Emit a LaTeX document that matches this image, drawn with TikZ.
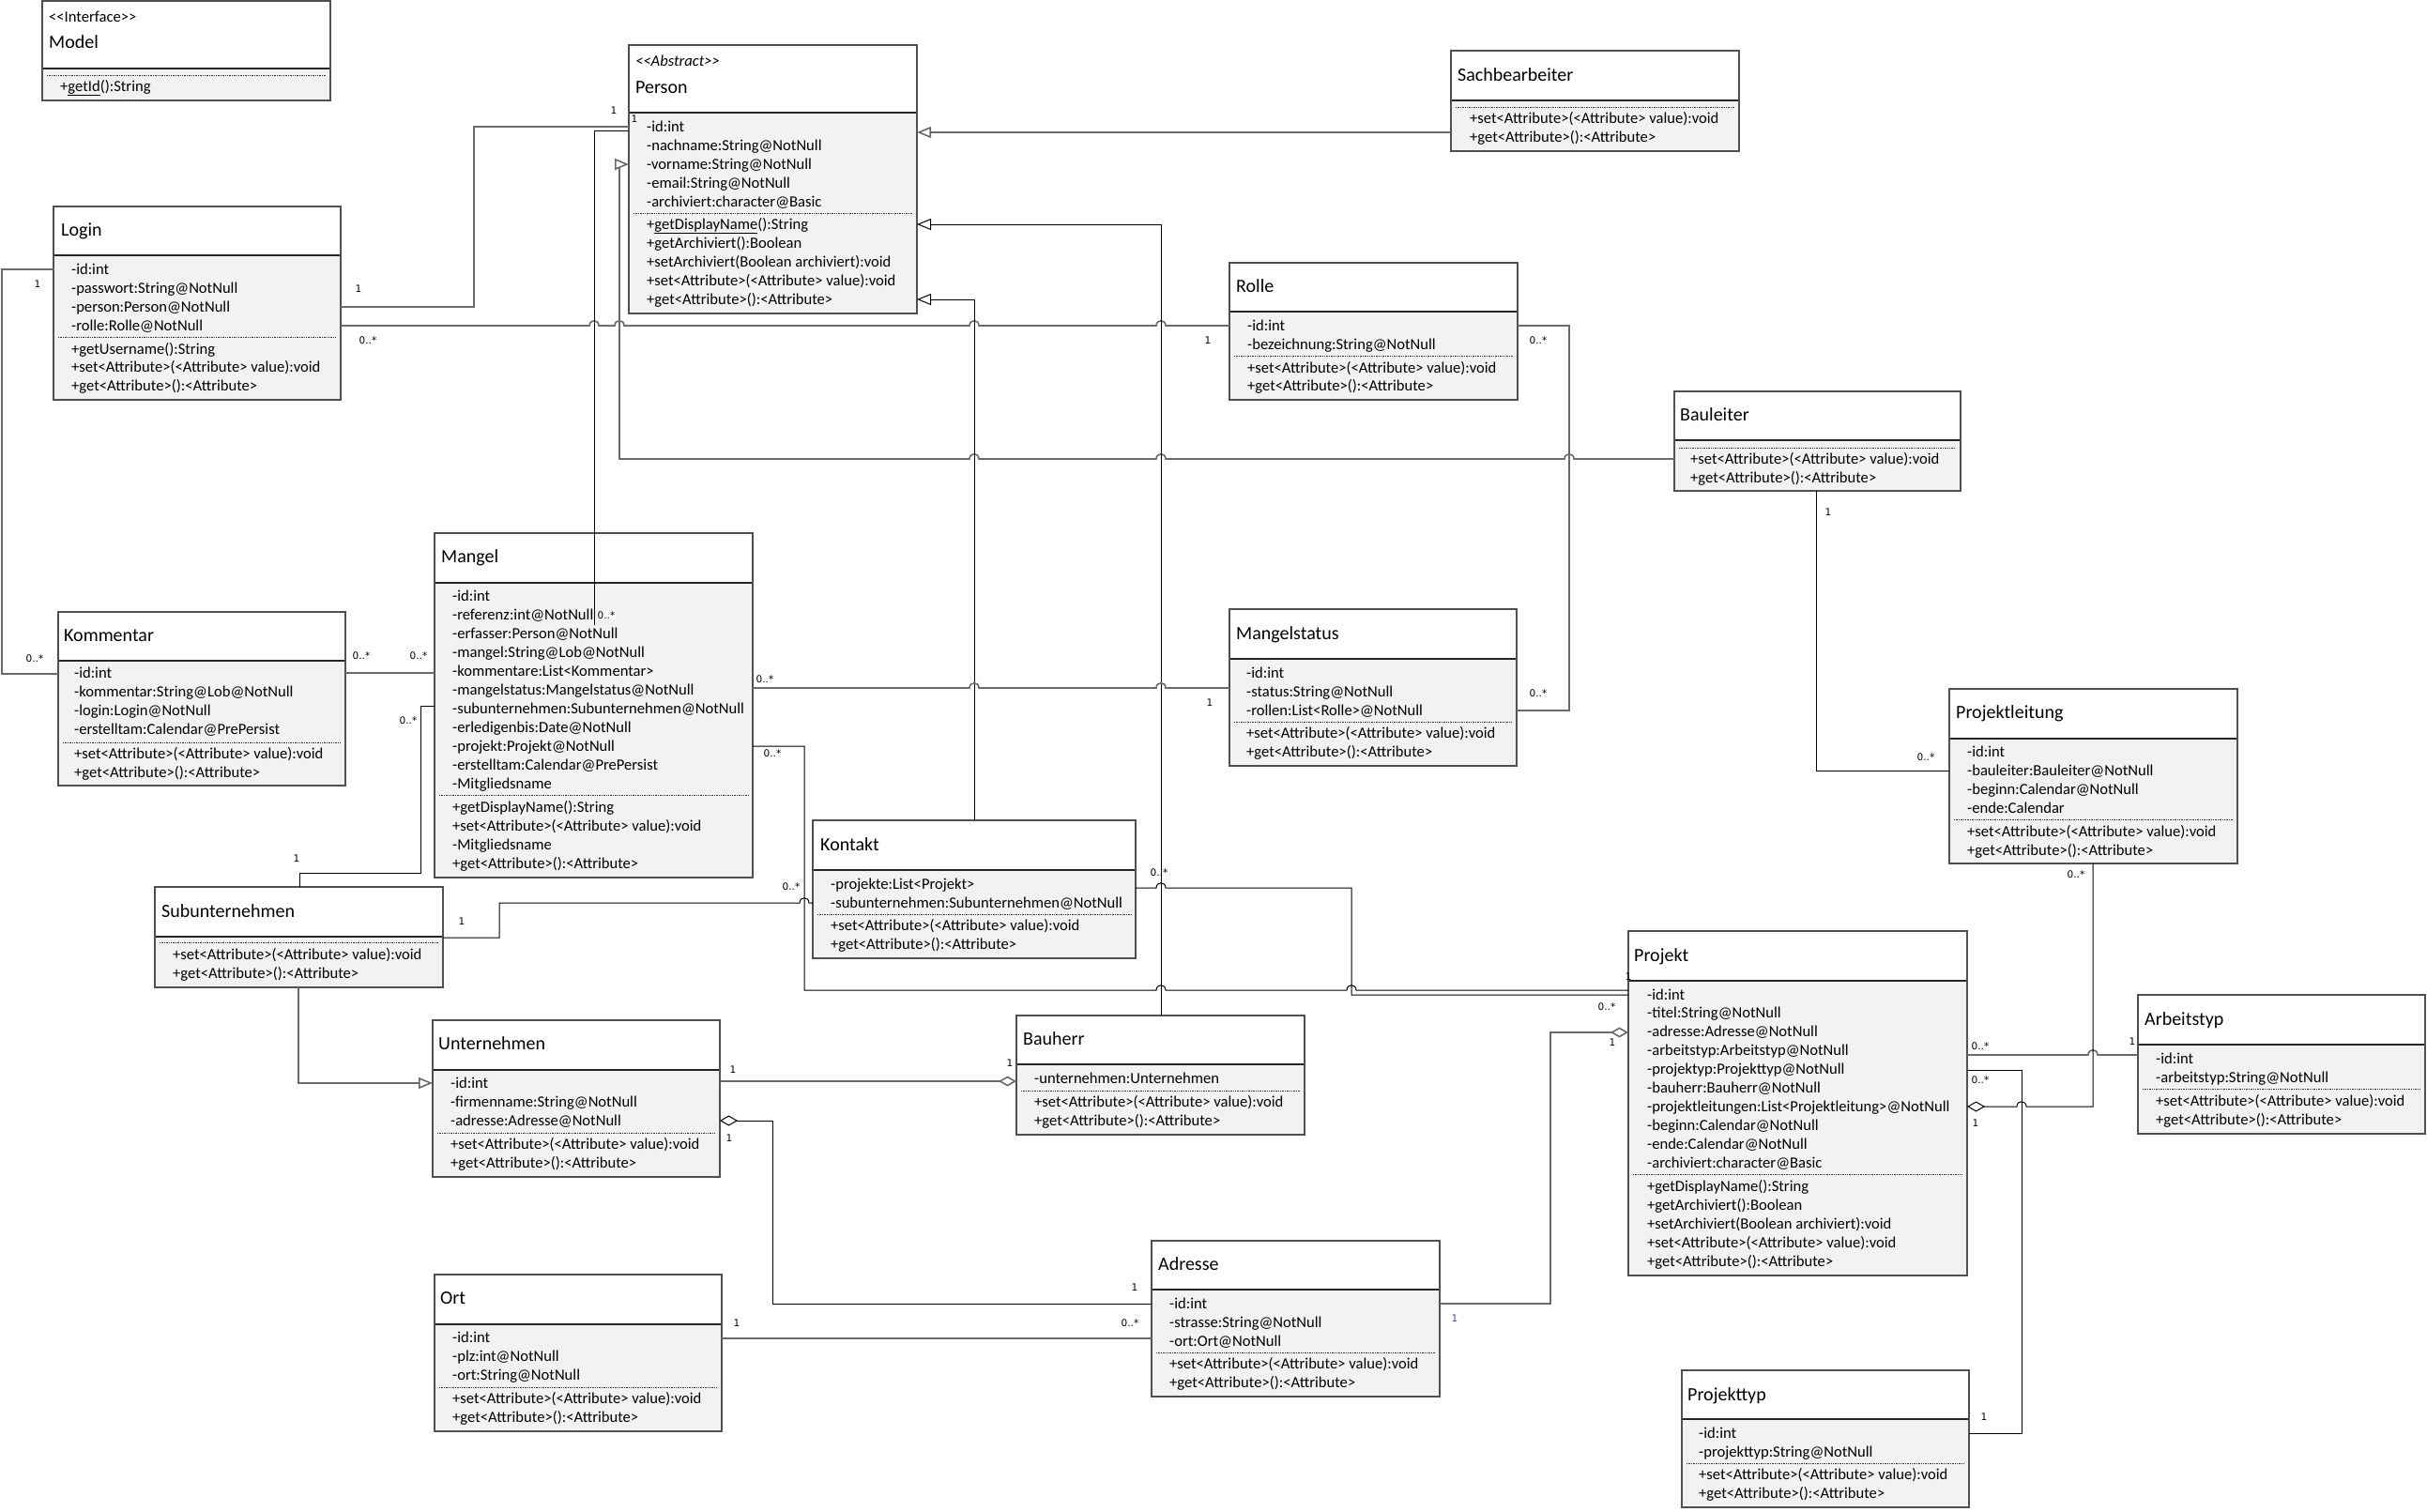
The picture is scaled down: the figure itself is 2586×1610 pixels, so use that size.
\documentclass[tikz,border=0pt]{standalone}
\usepackage{fontspec}
\setmainfont{Carlito}
\newfontfamily\lblfont{DejaVu Sans}
\usetikzlibrary{arrows.meta}
\definecolor{bodygray}{HTML}{F2F2F2}
\definecolor{boxgray}{HTML}{505050}
\definecolor{linegray}{HTML}{6A6A6A}
\definecolor{multblue}{HTML}{2F5597}
\tikzset{
  clsbody/.style={rectangle, inner sep=0pt, outer sep=0pt, fill=bodygray, draw=none},
  boxline/.style={draw=boxgray, line width=1.5pt},
  divline/.style={draw=black!85, line width=1.5pt},
  sepline/.style={draw=black!80, line width=1pt, dash pattern=on 1.3pt off 1.1pt},
  rowtxt/.style={anchor=west, inner sep=0pt, text height=12pt, text depth=2pt, font=\fontsize{16.6}{20}\selectfont},
  titletxt/.style={anchor=west, inner sep=0pt, text height=14pt, text depth=3pt, font=\fontsize{20}{24}\selectfont},
  mult/.style={inner sep=0.5pt, font=\lblfont\fontsize{10.5}{12}\selectfont},
  conn/.style={draw=linegray, line width=1.6pt},
  gen/.style={draw=black, line width=1pt},
  genhead/.style={-{Triangle[fill=white, length=15pt, width=12pt]}},
  aggend/.style={-{Diamond[fill=white, length=19pt, width=11pt]}},
  aggstart/.style={{Diamond[fill=white, length=19pt, width=11pt]}-},
  jump/.style args={#1,#2}{insert path={-- (#1-5,#2) .. controls (#1-5,#2-7) and (#1+5,#2-7) .. (#1+5,#2)}},
  jumpl/.style args={#1,#2}{insert path={-- (#1+5,#2) .. controls (#1+5,#2-7) and (#1-5,#2-7) .. (#1-5,#2)}}
}
\newcommand\umlclass[6]{%
  \node[clsbody, minimum width=#4pt, minimum height=#5pt, anchor=north west] (#1) at (#2,#3) {};
  \fill[white] (#1.north west) rectangle (#1.east |- 0,#6);
  \draw[divline] (#1.west |- 0,#6) -- (#1.east |- 0,#6);
  \draw[boxline] (#1.north west) rectangle (#1.south east);
}
\newcommand\sepl[3]{\draw[sepline] (#1+5,#3) -- (#2-5,#3);}
\newcommand\rowlist[4]{\foreach \rtext [count=\ri from 0] in {#4} {\node[rowtxt] at (#1,{#2+#3*\ri}) {\rtext};}}
\begin{document}
\begin{tikzpicture}[x=1pt,y=-1pt]
\useasboundingbox[fill=white] (0,0) rectangle (2586,1610);

% ---------------- classes ----------------
\umlclass{model}{45}{1}{307}{106}{73}
\node[rowtxt] at (52,18) {<{}<Interface>{}>};
\node[titletxt] at (52,46) {Model};
\sepl{45}{352}{80}
\node[rowtxt] at (64,92) {+\underline{getId}():String};

\umlclass{person}{670}{48}{307}{286}{120}
\node[rowtxt] at (677,65) {\itshape <{}<Abstract>{}>};
\node[titletxt] at (677,94) {Person};
\rowlist{689}{135}{20}{-id:int,-nachname:String@NotNull,-vorname:String@NotNull,-email:String@NotNull,-archiviert:character@Basic}
\sepl{670}{977}{227}
\rowlist{689}{239}{20}{+\underline{getDisplayName}():String,+getArchiviert():Boolean,+setArchiviert(Boolean archiviert):void,+set<Attribute>(<Attribute> value):void,+get<Attribute>():<Attribute>}

\umlclass{sachbearbeiter}{1546}{54}{307}{107}{107}
\node[titletxt] at (1553,81) {Sachbearbeiter};
\sepl{1546}{1853}{114}
\rowlist{1566}{126}{20}{+set<Attribute>(<Attribute> value):void,+get<Attribute>():<Attribute>}

\umlclass{login}{57}{220}{306}{206}{272}
\node[titletxt] at (65,246) {Login};
\rowlist{76}{287}{20}{-id:int,-passwort:String@NotNull,-person:Person@NotNull,-rolle:Rolle@NotNull}
\sepl{57}{363}{359}
\rowlist{76}{372}{19.5}{+getUsername():String,+set<Attribute>(<Attribute> value):void,+get<Attribute>():<Attribute>}

\umlclass{rolle}{1310}{280}{307}{146}{332}
\node[titletxt] at (1317,306) {Rolle};
\rowlist{1329}{347}{20}{-id:int,-bezeichnung:String@NotNull}
\sepl{1310}{1617}{379}
\rowlist{1329}{392}{19.5}{+set<Attribute>(<Attribute> value):void,+get<Attribute>():<Attribute>}

\umlclass{bauleiter}{1784}{417}{305}{106}{469}
\node[titletxt] at (1790,443) {Bauleiter};
\sepl{1784}{2089}{477}
\rowlist{1801}{489}{20}{+set<Attribute>(<Attribute> value):void,+get<Attribute>():<Attribute>}

\umlclass{kommentar}{62}{652}{306}{185}{704}
\node[titletxt] at (68,678) {Kommentar};
\rowlist{79}{717}{20}{-id:int,-kommentar:String@Lob@NotNull,-login:Login@NotNull,-erstelltam:Calendar@PrePersist}
\sepl{62}{368}{791}
\rowlist{79}{803}{20}{+set<Attribute>(<Attribute> value):void,+get<Attribute>():<Attribute>}

\umlclass{mangel}{463}{568}{339}{367}{621}
\node[titletxt] at (470,594) {Mangel};
\rowlist{482}{635}{20}{-id:int,-referenz:int@NotNull,-erfasser:Person@NotNull,-mangel:String@Lob@NotNull,-kommentare:List<Kommentar>,-mangelstatus:Mangelstatus@NotNull,-subunternehmen:Subunternehmen@NotNull,-erledigenbis:Date@NotNull,-projekt:Projekt@NotNull,-erstelltam:Calendar@PrePersist,-Mitgliedsname}
\sepl{463}{802}{847}
\rowlist{482}{860}{20}{+getDisplayName():String,+set<Attribute>(<Attribute> value):void,-Mitgliedsname,+get<Attribute>():<Attribute>}

\umlclass{mangelstatus}{1310}{649}{306}{167}{702}
\node[titletxt] at (1317,676) {Mangelstatus};
\rowlist{1328}{717}{20}{-id:int,-status:String@NotNull,-rollen:List<Rolle>@NotNull}
\sepl{1310}{1616}{769}
\rowlist{1328}{781}{20}{+set<Attribute>(<Attribute> value):void,+get<Attribute>():<Attribute>}

\umlclass{projektleitung}{2077}{734}{307}{186}{787}
\node[titletxt] at (2084,760) {Projektleitung};
\rowlist{2096}{801}{20}{-id:int,-bauleiter:Bauleiter@NotNull,-beginn:Calendar@NotNull,-ende:Calendar}
\sepl{2077}{2384}{873}
\rowlist{2096}{886}{20}{+set<Attribute>(<Attribute> value):void,+get<Attribute>():<Attribute>}

\umlclass{kontakt}{866}{874}{344}{147}{927}
\node[titletxt] at (874,901) {Kontakt};
\rowlist{885}{942}{20}{-projekte:List<Projekt>,-subunternehmen:Subunternehmen@NotNull}
\sepl{866}{1210}{974}
\rowlist{885}{986}{20}{+set<Attribute>(<Attribute> value):void,+get<Attribute>():<Attribute>}

\umlclass{subunternehmen}{165}{945}{307}{107}{998}
\node[titletxt] at (172,972) {Subunternehmen};
\sepl{165}{472}{1004}
\rowlist{184}{1017}{20}{+set<Attribute>(<Attribute> value):void,+get<Attribute>():<Attribute>}

\umlclass{unternehmen}{461}{1087}{306}{167}{1140}
\node[titletxt] at (467,1113) {Unternehmen};
\rowlist{480}{1154}{20}{-id:int,-firmenname:String@NotNull,-adresse:Adresse@NotNull}
\sepl{461}{767}{1207}
\rowlist{480}{1219}{20}{+set<Attribute>(<Attribute> value):void,+get<Attribute>():<Attribute>}

\umlclass{bauherr}{1083}{1082}{307}{127}{1134}
\node[titletxt] at (1090,1108) {Bauherr};
\node[rowtxt] at (1102,1149) {-unternehmen:Unternehmen};
\sepl{1083}{1390}{1162}
\rowlist{1102}{1174}{20}{+set<Attribute>(<Attribute> value):void,+get<Attribute>():<Attribute>}

\umlclass{projekt}{1735}{992}{361}{367}{1045}
\node[titletxt] at (1741,1019) {Projekt};
\rowlist{1755}{1060}{19.9}{-id:int,-titel:String@NotNull,-adresse:Adresse@NotNull,-arbeitstyp:Arbeitstyp@NotNull,-projektyp:Projekttyp@NotNull,-bauherr:Bauherr@NotNull,-projektleitungen:List<Projektleitung>@NotNull,-beginn:Calendar@NotNull,-ende:Calendar@NotNull,-archiviert:character@Basic}
\sepl{1735}{2096}{1251}
\rowlist{1755}{1264}{20}{+getDisplayName():String,+getArchiviert():Boolean,+setArchiviert(Boolean archiviert):void,+set<Attribute>(<Attribute> value):void,+get<Attribute>():<Attribute>}

\umlclass{arbeitstyp}{2278}{1060}{306}{148}{1113}
\node[titletxt] at (2285,1087) {Arbeitstyp};
\rowlist{2297}{1128}{20}{-id:int,-arbeitstyp:String@NotNull}
\sepl{2278}{2584}{1160}
\rowlist{2297}{1173}{20}{+set<Attribute>(<Attribute> value):void,+get<Attribute>():<Attribute>}

\umlclass{ort}{463}{1358}{306}{167}{1411}
\node[titletxt] at (469,1384) {Ort};
\rowlist{482}{1425}{20}{-id:int,-plz:int@NotNull,-ort:String@NotNull}
\sepl{463}{769}{1478}
\rowlist{482}{1490}{20}{+set<Attribute>(<Attribute> value):void,+get<Attribute>():<Attribute>}

\umlclass{adresse}{1227}{1322}{307}{166}{1374}
\node[titletxt] at (1234,1348) {Adresse};
\rowlist{1246}{1389}{20}{-id:int,-strasse:String@NotNull,-ort:Ort@NotNull}
\sepl{1227}{1534}{1441}
\rowlist{1246}{1453}{20}{+set<Attribute>(<Attribute> value):void,+get<Attribute>():<Attribute>}

\umlclass{projekttyp}{1792}{1460}{306}{146}{1512}
\node[titletxt] at (1798,1487) {Projekttyp};
\rowlist{1810}{1527}{20}{-id:int,-projekttyp:String@NotNull}
\sepl{1792}{2098}{1559}
\rowlist{1810}{1571}{20}{+set<Attribute>(<Attribute> value):void,+get<Attribute>():<Attribute>}

% ---------------- connectors ----------------
\draw[conn] (login.west |- 0,287) -- (2,287) -- (2,718) -- (kommentar.west |- 0,718);
\draw[conn] (login.east |- 0,327) -- (505,327) -- (505,135) -- (person.west |- 0,135);
\draw[conn] (login.east |- 0,347) [jump={633,347}] [jump={660,347}] [jump={1038,347}] [jump={1237,347}] -- (rolle.west |- 0,347);
\draw[gen] (mangel.north -| 633,0) -- (633,666);
\draw[gen] (mangel.north -| 633,0) -- (633,139) -- (person.west |- 0,139);
\draw[conn,genhead] (bauleiter.west |- 0,489) [jumpl={1672,489}] [jumpl={1237,489}] [jumpl={1038,489}] -- (660,489) -- (660,175) -- (person.west |- 0,175);
\draw[conn,genhead] (sachbearbeiter.west |- 0,141) -- (person.east |- 0,141);
\draw[gen,genhead] (bauherr.north -| 1237,0) -- (1237,239) -- (person.east |- 0,239);
\draw[gen,genhead] (kontakt.north -| 1038,0) -- (1038,319) -- (person.east |- 0,319);
\draw[conn] (rolle.east |- 0,347) -- (1672,347) -- (1672,757) -- (mangelstatus.east |- 0,757);
\draw[conn] (mangel.east |- 0,733) [jump={1038,733}] [jump={1237,733}] -- (mangelstatus.west |- 0,733);
\draw[conn] (kommentar.east |- 0,717) -- (mangel.west |- 0,717);
\draw[gen] (mangel.west |- 0,752) -- (448,752) -- (448,930) -- (319,930) -- (subunternehmen.north -| 319,0);
\draw[gen] (mangel.east |- 0,795) -- (857,795) -- (857,1055) [jump={1237,1055}] [jump={1440,1055}] -- (projekt.west |- 0,1055);
\draw[gen] (kontakt.east |- 0,946) [jump={1237,946}] -- (1440,946) -- (1440,1060) -- (projekt.west |- 0,1060);
\draw[gen] (subunternehmen.east |- 0,999) -- (532,999) -- (532,962) [jump={857,962}] -- (kontakt.west |- 0,962);
\draw[conn,genhead] (subunternehmen.south -| 318,0) -- (318,1154) -- (unternehmen.west |- 0,1154);
\draw[conn,aggend] (unternehmen.east |- 0,1152) -- (bauherr.west |- 0,1152);
\draw[gen,aggstart] (unternehmen.east |- 0,1194) -- (823,1194) -- (823,1389) -- (adresse.west |- 0,1389);
\draw[conn] (ort.east |- 0,1426) -- (adresse.west |- 0,1426);
\draw[conn,aggend] (adresse.east |- 0,1389) -- (1652,1389) -- (1652,1100) -- (projekt.west |- 0,1100);
\draw[conn] (projekt.east |- 0,1124) [jump={2230,1124}] -- (arbeitstyp.west |- 0,1124);
\draw[gen] (projekt.east |- 0,1140) -- (2154,1140) -- (2154,1527) -- (projekttyp.east |- 0,1527);
\draw[gen,aggstart] (projekt.east |- 0,1179) [jump={2154,1179}] -- (2230,1179) -- (projektleitung.south -| 2230,0);
\draw[gen] (bauleiter.south -| 1935,0) -- (1935,821) -- (projektleitung.west |- 0,821);

% ---------------- multiplicities ----------------
\node[mult] (m1a) at (40,303) {1};
\node[mult] (m1b) at (37,702) {0..*};
\node[mult] (m2a) at (382,308) {1};
\node[mult] (m2b) at (654,118) {1};
\node[mult] (m3a) at (392,363) {0..*};
\node[mult] (m3b) at (1287,363) {1};
\node[mult, fill=white] (m4a) at (646,656) {0..*};
\node[mult] (m4b) at (676,127) {1};
\node[mult] (m9a) at (1639,363) {0..*};
\node[mult] (m9b) at (1639,739) {0..*};
\node[mult] (m10a) at (815,724) {0..*};
\node[mult] (m10b) at (1289,749) {1};
\node[mult] (m11a) at (385,699) {0..*};
\node[mult] (m11b) at (446,699) {0..*};
\node[mult] (m12a) at (435,768) {0..*};
\node[mult] (m12b) at (316,915) {1};
\node[mult] (m13a) at (823,803) {0..*};
\node[mult] (m13b) at (1735,1041) {1};
\node[mult] (m13c) at (1712,1073) {0..*};
\node[mult] (m14a) at (1235,930) {0..*};
\node[mult] (m15a) at (492,982) {1};
\node[mult] (m15b) at (843,945) {0..*};
\node[mult] (m17a) at (781,1140) {1};
\node[mult] (m17b) at (1076,1133) {1};
\node[mult] (m18a) at (777,1213) {1};
\node[mult] (m18b) at (1209,1372) {1};
\node[mult] (m19a) at (785,1410) {1};
\node[mult] (m19b) at (1204,1410) {0..*};
\node[mult, text=multblue] (m20a) at (1550,1405) {1};
\node[mult] (m20b) at (1718,1111) {1};
\node[mult] (m21a) at (2110,1115) {0..*};
\node[mult] (m21b) at (2272,1110) {1};
\node[mult] (m22a) at (2110,1151) {0..*};
\node[mult] (m22b) at (2114,1510) {1};
\node[mult] (m23a) at (2105,1197) {1};
\node[mult] (m23b) at (2212,932) {0..*};
\node[mult] (m24a) at (1948,546) {1};
\node[mult] (m24b) at (2052,807) {0..*};
\end{tikzpicture}
\end{document}
